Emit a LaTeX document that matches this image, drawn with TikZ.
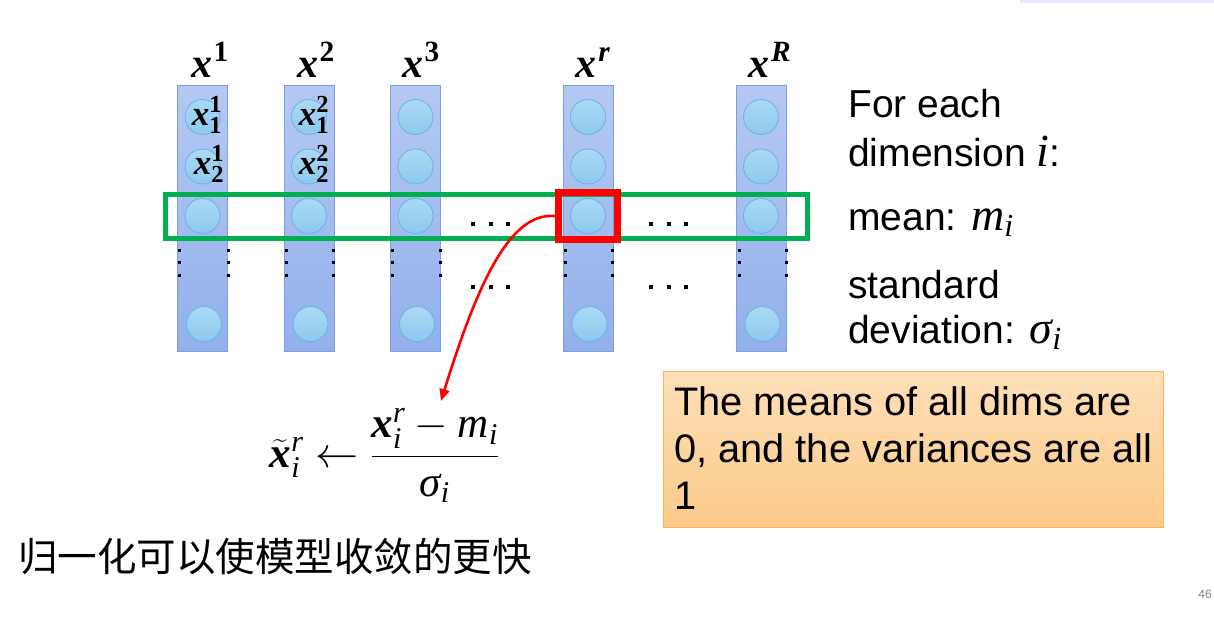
\RequirePackage{fix-cm}
\documentclass[tikz,border=0pt]{standalone}
\usepackage{amsmath}
\usepackage{fontspec}
\setmainfont{Liberation Sans}
\newfontfamily\cjk{Noto Sans CJK SC}
\newfontfamily\mfont{Liberation Serif}
\newcommand{\bx}[1]{\text{\mfont\bfseries\itshape #1}}
\newcommand{\bd}[1]{\text{\mfont\bfseries #1}}
\newcommand{\ix}[1]{\text{\mfont\itshape #1}}
\newcommand{\sidemath}[1]{{\fontsize{46}{46}\selectfont$#1$}}
\usetikzlibrary{arrows.meta}
\definecolor{coltop}{HTML}{B5C8F2}
\definecolor{colbot}{HTML}{93B0EB}
\definecolor{colborder}{HTML}{7C9FE2}
\definecolor{circtop}{HTML}{ABD9F4}
\definecolor{circbot}{HTML}{8DC9EE}
\definecolor{circborder}{HTML}{62B5E8}
\definecolor{pptgreen}{HTML}{00B050}
\definecolor{notetop}{HTML}{FDDFB8}
\definecolor{notebot}{HTML}{FCCA8A}
\definecolor{noteborder}{HTML}{F8B755}
\tikzset{
  colbox/.style={draw=colborder, line width=0.8, top color=coltop, bottom color=colbot,
    minimum width=50, minimum height=266, inner sep=0, outer sep=0},
  neuron/.style={circle, draw=circborder, line width=0.8, top color=circtop, bottom color=circbot,
    minimum size=35, inner sep=0},
  dotsq/.style={fill=black},
  collabel/.style={anchor=base, inner sep=0, font=\fontsize{42}{48}\selectfont},
  inlabel/.style={anchor=base, font=\fontsize{35}{40}\selectfont, inner sep=0},
  sidetext/.style={anchor=base west, inner sep=0, font=\fontsize{39}{46}\selectfont},
  notetext/.style={anchor=base west, inner sep=0, font=\fontsize{39.8}{46}\selectfont},
}
\newcommand{\vdotsat}[2]{%
  \fill[dotsq] (#1-1.5,#2-1.5) rectangle (#1+1.5,#2+1.5);
  \fill[dotsq] (#1-1.5,#2+10.5) rectangle (#1+1.5,#2+13.5);
  \fill[dotsq] (#1-1.5,#2+23.5) rectangle (#1+1.5,#2+26.5);}
\newcommand{\hdotsat}[2]{%
  \fill[dotsq] (#1-2,#2-2) rectangle (#1+2,#2+2);
  \fill[dotsq] (#1+15.5,#2-2) rectangle (#1+19.5,#2+2);
  \fill[dotsq] (#1+33,#2-2) rectangle (#1+37,#2+2);}
\begin{document}
\begin{tikzpicture}[x=1pt,y=-1pt]
\useasboundingbox[fill=white] (0,0) rectangle (1214,624);
% faint top-right line
\fill[color={rgb,255:red,236;green,234;blue,250}] (1020,0) rectangle (1214,2.5);

% columns
\foreach \n/\cx in {a/202.5,b/309,c/415.5,r/588,R/761}{
  \node[colbox] (col\n) at (\cx,218.5) {};
  \node[neuron] (n\n1) at (\cx,117) {};
  \node[neuron] (n\n2) at (\cx,166.5) {};
  \node[neuron] (n\n3) at (\cx,216) {};
  \node[neuron] (n\n4) at (\cx+1.5,324) {};
}

% row and selected element
\node[draw=pptgreen, line width=5, minimum width=642, minimum height=44, inner sep=0] (row) at (486.5,216.5) {};
\node[draw=red, line width=7, minimum width=59, minimum height=47, inner sep=0] (sel) at (588,216) {};

% vertical dots at column edges
\foreach \l/\r in {179/228, 286/333.5, 392.5/440, 565/612, 739/786.5}{
  \vdotsat{\l}{250}
  \vdotsat{\r}{250}
}
% horizontal dots
\hdotsat{473}{224}
\hdotsat{651}{224}
\hdotsat{473}{287}
\hdotsat{651}{287}

% column labels
\node[collabel] (la) at (210,77) {$\bx{x}^{\kern1.5pt\bd{1}}$};
\node[collabel] (lb) at (316,77) {$\bx{x}^{\kern1.5pt\bd{2}}$};
\node[collabel] (lc) at (421,77) {$\bx{x}^{\kern1.5pt\bd{3}}$};
\node[collabel] (lr) at (593,77) {$\bx{x}^{\kern1.5pt\bx{r}}$};
\node[collabel] (lR) at (770,77) {$\bx{x}^{\kern1.5pt\bx{R}}$};

% labels inside neurons
\node[inlabel] (xa1) at (207,125) {$\bx{x}_{\bd{1}}^{\bd{1}}$};
\node[inlabel] (xa2) at (209,174) {$\bx{x}_{\bd{2}}^{\bd{1}}$};
\node[inlabel] (xb1) at (314,125) {$\bx{x}_{\bd{1}}^{\bd{2}}$};
\node[inlabel] (xb2) at (314,174) {$\bx{x}_{\bd{2}}^{\bd{2}}$};

% side text
\node[sidetext] (t1) at (848,117) {For each};
\node[sidetext] (t2) at (848,166) {dimension \sidemath{\ix{i}}:};
\node[sidetext] (t3) at (848,230) {mean: \sidemath{\ix{m}_{\ix{i}}}};
\node[sidetext] (t4) at (848,298) {standard};
\node[sidetext] (t5) at (848,343) {deviation: \sidemath{\ix{σ}_{\ix{i}}}};

% formula
\node[anchor=base, font=\fontsize{43}{48}\selectfont, inner sep=0] (formula) at (384.5,467)
  {$\widetilde{\bx{x}}{}_{\ix{i}}^{\ix{r}} \leftarrow \dfrac{\bx{x}_{\ix{i}}^{\ix{r}} - \ix{m}_{\ix{i}}}{\ix{σ}_{\ix{i}}}$};
\coordinate (tip) at (441,401);
\draw[red, line width=2.6, -{Triangle[length=12,width=10]}]
  (sel.west) .. controls (510,212) and (478,282) .. (tip);

% note box
\node[draw=noteborder, line width=0.8, top color=notetop, bottom color=notebot,
  minimum width=500, minimum height=156, inner sep=0] (note) at (913,449) {};
\node[notetext] (n1) at (674,415) {The means of all dims are};
\node[notetext] (n2) at (674,462) {0, and the variances are all};
\node[notetext] (n3) at (674,509) {1};

% chinese
\node[anchor=base west, inner sep=0, font=\cjk\fontsize{39.5}{46}\selectfont] (cn) at (18,571) {归一化可以使模型收敛的更快};

% page number
\node[text=gray, font=\fontsize{12}{14}\selectfont, inner sep=0] (pg) at (1205,594) {46};
\end{tikzpicture}
\end{document}
